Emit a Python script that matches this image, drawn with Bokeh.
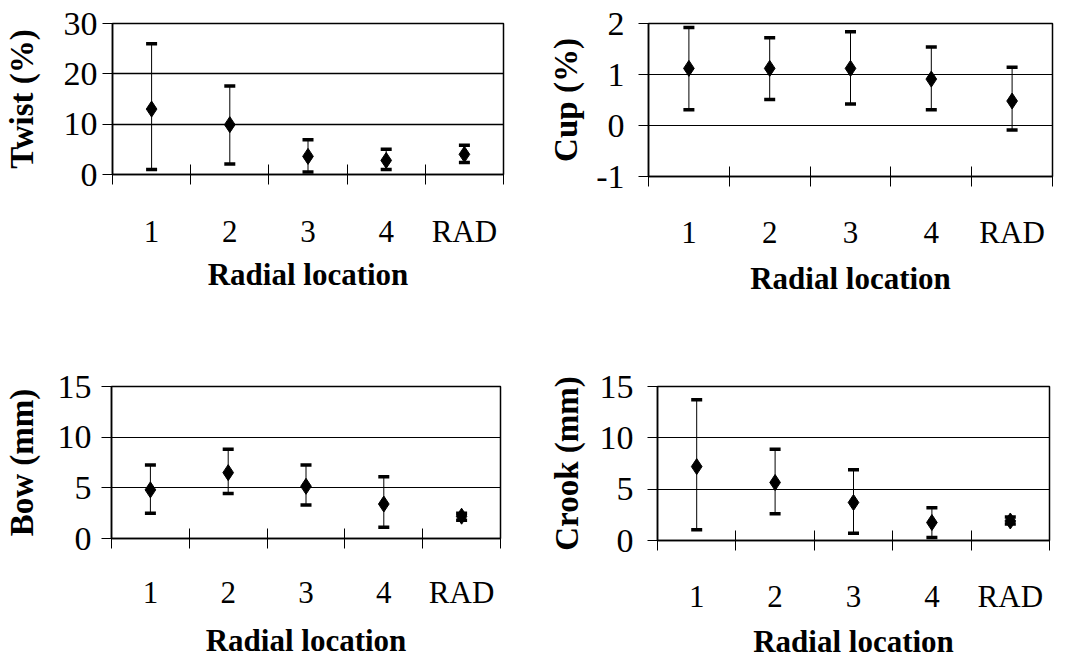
from bokeh.plotting import figure
from bokeh.models import (ColumnDataSource, Whisker, TeeHead, Range1d,
                          LinearAxis, FixedTicker, CustomJSTickFormatter)
from bokeh.layouts import row, column
from bokeh.embed import file_html
from bokeh.resources import INLINE

categories = ["1", "2", "3", "4", "RAD"]

twist_mean = [13.0, 9.9, 3.6, 2.8, 4.0]
twist_upper = [26.0, 17.6, 6.9, 5.0, 5.8]
twist_lower = [1.0, 2.1, 0.5, 1.0, 2.4]

cup_mean = [1.12, 1.12, 1.12, 0.91, 0.48]
cup_upper = [1.92, 1.72, 1.84, 1.54, 1.14]
cup_lower = [0.31, 0.51, 0.42, 0.31, -0.09]

bow_mean = [4.8, 6.5, 5.15, 3.4, 2.2]
bow_upper = [7.25, 8.8, 7.25, 6.1, 2.5]
bow_lower = [2.5, 4.45, 3.3, 1.1, 1.8]

crook_mean = [7.2, 5.65, 3.7, 1.75, 1.9]
crook_upper = [13.7, 8.9, 6.9, 3.2, 2.3]
crook_lower = [1.05, 2.6, 0.7, 0.3, 1.6]

y_titles = ["Twist (%)", "Cup (%)", "Bow (mm)", "Crook (mm)"]
y_ranges = [(0, 30), (-1, 2), (0, 15), (0, 15)]
y_ticks = [[0, 10, 20, 30], [-1, 0, 1, 2], [0, 5, 10, 15], [0, 5, 10, 15]]
x_title = "Radial location"

FONT = "Liberation Serif"
XTICK_FS = "31px"
YTICK_FS = "34px"
XTITLE_FS = "31px"
YTITLE_FS = "33px"
N = len(categories)
XPOS = [i + 0.5 for i in range(N)]  # category centres on a 0..N axis


def panel(mean, upper, lower, ytitle, yr, yt, fw, fh, bl, br, bt, bb,
          lab_standoff, title_standoff, xs1, xs2, grid_w):
    p = figure(x_range=Range1d(0, N), y_range=Range1d(*yr),
               frame_width=fw, frame_height=fh,
               min_border_left=bl, min_border_right=br, min_border_top=bt, min_border_bottom=bb,
               output_backend="svg", toolbar_location=None, x_axis_location=None,
               background_fill_color="white", border_fill_color="white")
    p.outline_line_color = "black"
    p.outline_line_width = 1.5

    bnd = LinearAxis(ticker=FixedTicker(ticks=list(range(N + 1))),
                     formatter=CustomJSTickFormatter(code="return ''"),
                     major_tick_in=10, major_tick_out=10,
                     major_tick_line_color="black", major_tick_line_width=1,
                     axis_line_color="black", axis_line_width=1.5,
                     major_label_standoff=0, major_label_text_font_size="1px")
    bnd.minor_tick_line_color = None
    p.add_layout(bnd, "below")

    cax = LinearAxis(ticker=FixedTicker(ticks=XPOS),
                     major_label_overrides=dict(zip(XPOS, categories)),
                     axis_label=x_title,
                     major_tick_line_color=None, major_tick_in=0, major_tick_out=0,
                     axis_line_color=None, major_label_standoff=xs1,
                     major_label_text_font=FONT, major_label_text_font_size=XTICK_FS,
                     major_label_text_color="black",
                     axis_label_text_font=FONT, axis_label_text_font_size=XTITLE_FS,
                     axis_label_text_font_style="bold", axis_label_text_color="black",
                     axis_label_standoff=xs2)
    cax.minor_tick_line_color = None
    p.add_layout(cax, "below")

    p.yaxis.ticker = FixedTicker(ticks=yt)
    p.yaxis.major_label_overrides = {t: str(t) for t in yt}
    p.yaxis.axis_label = ytitle
    p.yaxis.major_tick_in = 0
    p.yaxis.major_tick_out = 10
    p.yaxis.minor_tick_line_color = None
    p.yaxis.axis_line_color = "black"
    p.yaxis.axis_line_width = 1.5
    p.yaxis.major_tick_line_color = "black"
    p.yaxis.major_label_standoff = lab_standoff
    p.yaxis.major_label_text_font = FONT
    p.yaxis.major_label_text_font_size = YTICK_FS
    p.yaxis.major_label_text_color = "black"
    p.yaxis.axis_label_text_font = FONT
    p.yaxis.axis_label_text_font_size = YTITLE_FS
    p.yaxis.axis_label_text_font_style = "bold"
    p.yaxis.axis_label_text_color = "black"
    p.yaxis.axis_label_standoff = title_standoff

    p.xgrid.grid_line_color = None
    p.ygrid.grid_line_color = "black"
    p.ygrid.grid_line_width = grid_w
    p.ygrid.ticker = FixedTicker(ticks=yt)

    src = ColumnDataSource(dict(x=XPOS, mean=mean, upper=upper, lower=lower))
    w = Whisker(base="x", upper="upper", lower="lower", source=src,
                line_color="black", line_width=1, level="glyph",
                upper_head=TeeHead(size=11, line_width=3.5, line_color="black"),
                lower_head=TeeHead(size=11, line_width=3.5, line_color="black"))
    p.add_layout(w)
    p.scatter(x="x", y="mean", source=src, marker="diamond", size=16,
              fill_color="black", line_color="black")
    return p


p1 = panel(twist_mean, twist_upper, twist_lower, y_titles[0], y_ranges[0], y_ticks[0],
           391, 151, 111, 33, 23, 146, 5, 21, 29, 5, 1.5)
p2 = panel(cup_mean, cup_upper, cup_lower, y_titles[1], y_ranges[1], y_ticks[1],
           404, 153, 112, 20, 23, 144, 14, 9, 28, 8, 1)
p3 = panel(bow_mean, bow_upper, bow_lower, y_titles[2], y_ranges[2], y_ticks[2],
           389, 152, 111, 35, 66, 119, 10, 15, 26, 10, 1)
p4 = panel(crook_mean, crook_upper, crook_lower, y_titles[3], y_ranges[3], y_ticks[3],
           392, 154, 122, 22, 66, 117, 14, 12, 28, 7, 1)

layout = column(row(p1, p2), row(p3, p4))
open("out.html", "w").write(file_html(layout, INLINE))
